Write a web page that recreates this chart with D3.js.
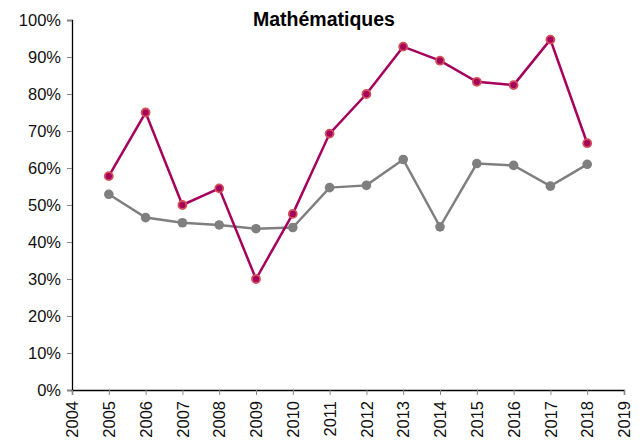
<!DOCTYPE html>
<html>
<head>
<meta charset="utf-8">
<script src="https://cdn.jsdelivr.net/npm/d3@7"></script>
<style>
  body { margin: 0; background: #fff; }
  svg text { font-family: "Liberation Sans", Arial, sans-serif; }
</style>
</head>
<body>
<div id="chart"></div>
<script>
const years = [2005, 2006, 2007, 2008, 2009, 2010, 2011, 2012, 2013, 2014, 2015, 2016, 2017, 2018];
const schoolValues = [57.8, 75.0, 50.0, 54.5, 30.0, 47.6, 69.3, 80.0, 92.8, 89.0, 83.3, 82.4, 94.7, 66.7];
const nationalValues = [52.9, 46.6, 45.2, 44.6, 43.6, 43.9, 54.7, 55.3, 62.3, 44.1, 61.2, 60.7, 55.1, 61.0];
const xTicks = d3.range(2004, 2020);
const yTicks = [0, 10, 20, 30, 40, 50, 60, 70, 80, 90, 100];

const margin = {top: 20, right: 19, bottom: 54, left: 72};
const width = 643 - margin.left - margin.right;
const height = 444 - margin.top - margin.bottom;

const svg = d3.select('#chart')
    .append('svg')
    .attr('width', 643)
    .attr('height', 444);

const g = svg.append('g')
    .attr('transform', `translate(${margin.left},${margin.top})`);

const x = d3.scaleLinear().domain([2004, 2019]).range([0, width]);
const y = d3.scaleLinear().domain([0, 100]).range([height, 0]);

// Axes
const yAxis = g.append('g')
    .call(d3.axisLeft(y).tickValues(yTicks).tickFormat(d => d + '%').tickSize(5).tickPadding(6));
yAxis.select('.domain').attr('stroke', '#000').attr('stroke-width', 1.3);
yAxis.selectAll('.tick line').attr('stroke', '#888');
yAxis.selectAll('.tick text').attr('fill', '#111').style('font-size', '16.5px');

const xAxis = g.append('g')
    .attr('transform', `translate(0,${height})`)
    .call(d3.axisBottom(x).tickValues(xTicks).tickFormat(d3.format('d')).tickSize(5).tickPadding(6));
xAxis.select('.domain').attr('stroke', '#000').attr('stroke-width', 1.3);
xAxis.selectAll('.tick line').attr('stroke', '#888');
xAxis.selectAll('.tick text')
    .attr('fill', '#111')
    .style('font-size', '16.5px')
    .attr('text-anchor', 'end')
    .attr('transform', 'rotate(-90)')
    .attr('x', -11)
    .attr('y', 0)
    .attr('dy', '0.35em');

// Title
svg.append('text')
    .attr('x', 324)
    .attr('y', 26)
    .attr('text-anchor', 'middle')
    .attr('font-weight', 'bold')
    .style('font-size', '19.5px')
    .attr('fill', '#000')
    .text('Mathématiques');

const line = d3.line()
    .x((d, i) => x(years[i]))
    .y(d => y(d));

// Série nationale (gris)
g.append('path')
    .datum(nationalValues)
    .attr('fill', 'none')
    .attr('stroke', '#7f7f7f')
    .attr('stroke-width', 2.5)
    .attr('d', line);

g.selectAll('.pt-nat')
    .data(nationalValues)
    .enter()
    .append('circle')
    .attr('class', 'pt-nat')
    .attr('cx', (d, i) => x(years[i]))
    .attr('cy', d => y(d))
    .attr('r', 4.8)
    .attr('fill', '#7f7f7f');

// Série établissement (magenta)
g.append('path')
    .datum(schoolValues)
    .attr('fill', 'none')
    .attr('stroke', '#a6005c')
    .attr('stroke-width', 2.5)
    .attr('d', line);

g.selectAll('.pt-sch')
    .data(schoolValues)
    .enter()
    .append('circle')
    .attr('class', 'pt-sch')
    .attr('cx', (d, i) => x(years[i]))
    .attr('cy', d => y(d))
    .attr('r', 4)
    .attr('fill', '#a6005c')
    .attr('stroke', '#d2505a')
    .attr('stroke-width', 1.8);
</script>
</body>
</html>
